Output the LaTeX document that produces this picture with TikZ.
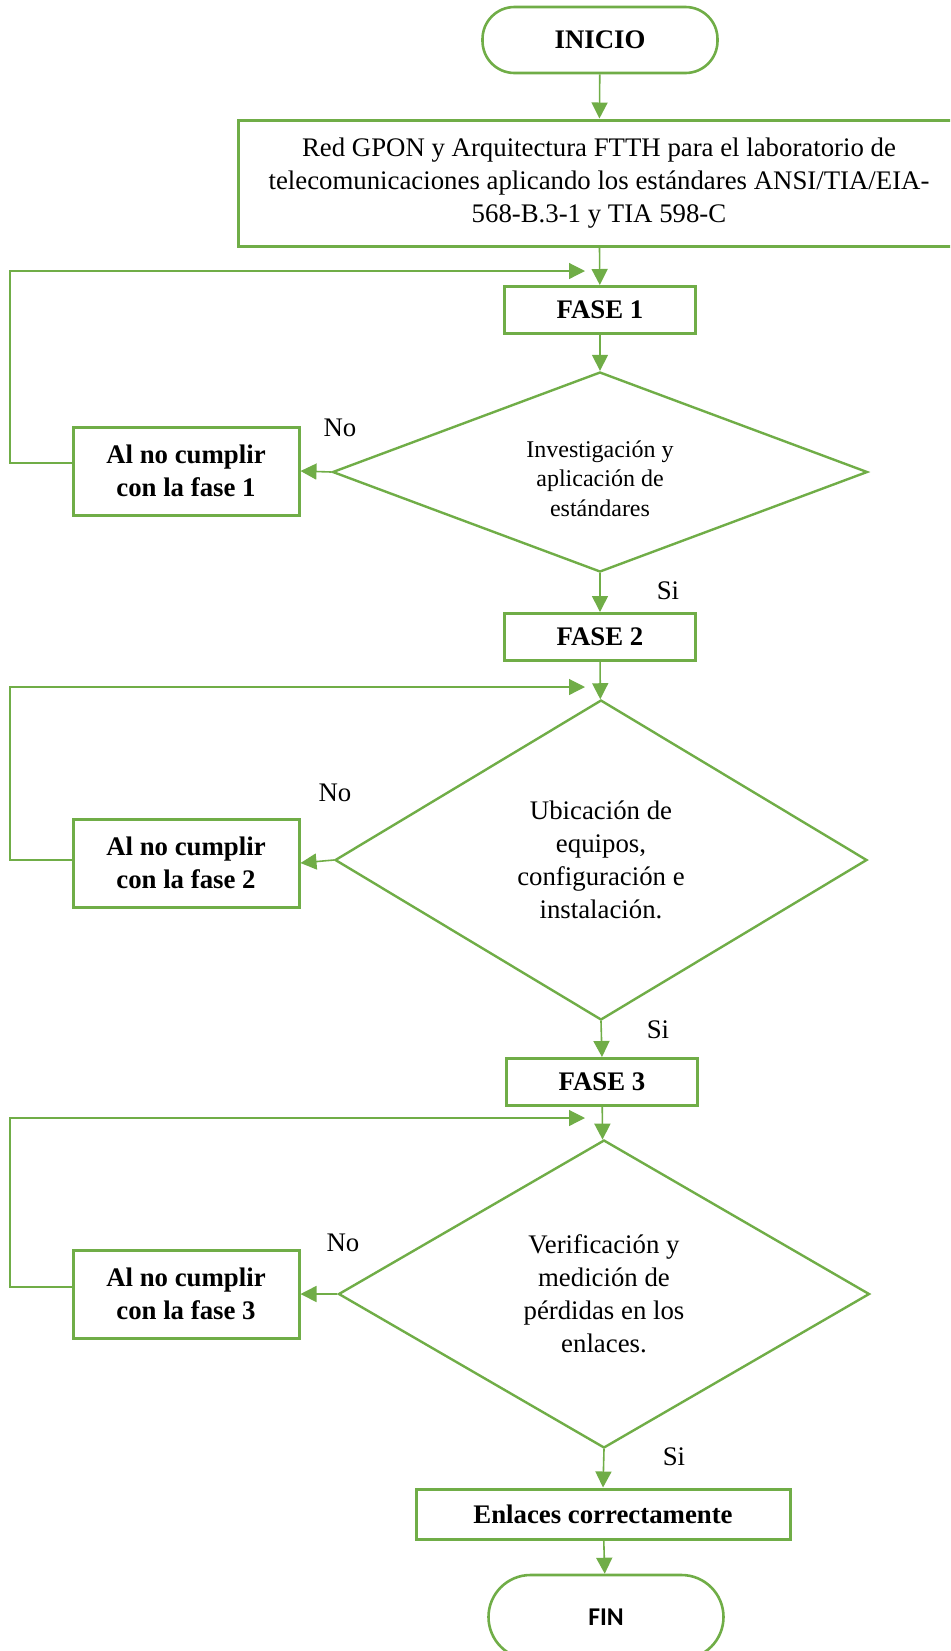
\documentclass[tikz,border=0pt]{standalone}
\usepackage{fontspec}
\setmainfont{Liberation Serif}
\newfontfamily\finfont{Carlito}
\usetikzlibrary{shapes.geometric,arrows.meta}
\definecolor{fgreen}{HTML}{70AD47}

\begin{document}
\begin{tikzpicture}[x=0.5pt,y=-0.5pt,
   txt/.style={font=\fontsize{13.4}{16.5}\selectfont},
   term/.style={draw=fgreen,line width=1.3pt,rounded corners=16pt,minimum width=117.5pt,minimum height=33pt,font=\bfseries\fontsize{13.4}{16.5}\selectfont},
   fase/.style={draw=fgreen,line width=1.5pt,minimum width=95.5pt,minimum height=23.5pt,font=\bfseries\fontsize{13.4}{16.5}\selectfont},
   fail/.style={draw=fgreen,line width=1.5pt,minimum width=113pt,minimum height=44pt,align=center,font=\bfseries\fontsize{13.4}{16.3}\selectfont},
   decide/.style={draw=fgreen,line width=1.2pt,diamond,inner sep=0pt,align=center,font=\fontsize{13.4}{16.5}\selectfont},
   go/.style={draw=fgreen,line width=0.8pt,-{Triangle[width=8pt,length=8pt]}},
   loopback/.style={draw=fgreen,line width=0.6pt,-{Triangle[width=8pt,length=8pt]}},
   lbl/.style={font=\fontsize{13.4}{16.5}\selectfont}]
   \useasboundingbox (0,0) rectangle (950,1651);
   \clip (0,0) rectangle (950,1651);

   % main column
   \node[term] (ini) at (600,40) {INICIO};
   \node[draw=fgreen,line width=1.5pt,minimum width=361pt,minimum height=63pt,align=center,txt] (gpon) at (599,183)
      {Red GPON y Arquitectura FTTH para el laboratorio de\\telecomunicaciones aplicando los estándares ANSI/TIA/EIA-\\568-B.3-1 y TIA 598-C};
   \node[fase] (f1) at (600,310) {FASE 1};
   \node[decide,minimum width=267.5pt,minimum height=100pt,shape aspect=2.7,font=\fontsize{12}{14.75}\selectfont] (d1) at (600,472)
      {\rule{0pt}{6pt}\\[-6pt]Investigación y\\aplicación de\\estándares};
   \node[fase] (f2) at (600,637) {FASE 2};
   \node[decide,minimum width=266pt,minimum height=160pt,shape aspect=1.66] (d2) at (601,860)
      {Ubicación de\\equipos,\\configuración e\\instalación.};
   \node[fase] (f3) at (602,1082) {FASE 3};
   \node[decide,minimum width=265.5pt,minimum height=154pt,shape aspect=1.72] (d3) at (604,1294)
      {Verificación y\\medición de\\pérdidas en los\\enlaces.};
   \node[fase,minimum width=187pt,minimum height=25pt] (ok) at (603,1514) {Enlaces correctamente};
   \node[term,minimum height=42pt,rounded corners=21pt,font=\finfont\bfseries\fontsize{12.8}{15}\selectfont] (fin) at (606,1617) {FIN};

   % failure boxes
   \node[fail] (fail1) at (186,471) {Al no cumplir\\con la fase 1};
   \node[fail] (fail2) at (186,863) {Al no cumplir\\con la fase 2};
   \node[fail] (fail3) at (186,1294) {Al no cumplir\\con la fase 3};

   % answers
   \node[lbl] (no1) at (340,428) {No};
   \node[lbl] (si1) at (668,591) {Si};
   \node[lbl] (no2) at (335,793) {No};
   \node[lbl] (si2) at (658,1030) {Si};
   \node[lbl] (no3) at (343,1243) {No};
   \node[lbl] (si3) at (674,1457) {Si};

   \coordinate (left1) at (10,271);  \coordinate (back1) at (585,271);
   \coordinate (left2) at (10,687);  \coordinate (back2) at (585,687);
   \coordinate (left3) at (10,1118); \coordinate (back3) at (585,1118);

   \draw[go] (ini) -- (gpon);
   \draw[go] (gpon) -- (f1);
   \draw[go] (f1) -- (d1);
   \draw[go] (d1.west) -- (fail1.east);
   \draw[go] (d1.south) -- (f2.north);
   \draw[go] (f2) -- (d2);
   \draw[go] (d2.west) -- (fail2.east);
   \draw[go] (d2.south) -- (f3.north);
   \draw[go] (f3) -- (d3);
   \draw[go] (d3.west) -- (fail3.east);
   \draw[go] (d3.south) -- (ok.north);
   \draw[go] (ok) -- (fin);

   % back to the start of the phase
   \draw[loopback] ([yshift=4pt]fail1.west) -| (left1) -- (back1);
   \draw[loopback] ([yshift=1.5pt]fail2.west) -| (left2) -- (back2);
   \draw[loopback] ([yshift=3.5pt]fail3.west) -| (left3) -- (back3);
\end{tikzpicture}
\end{document}
